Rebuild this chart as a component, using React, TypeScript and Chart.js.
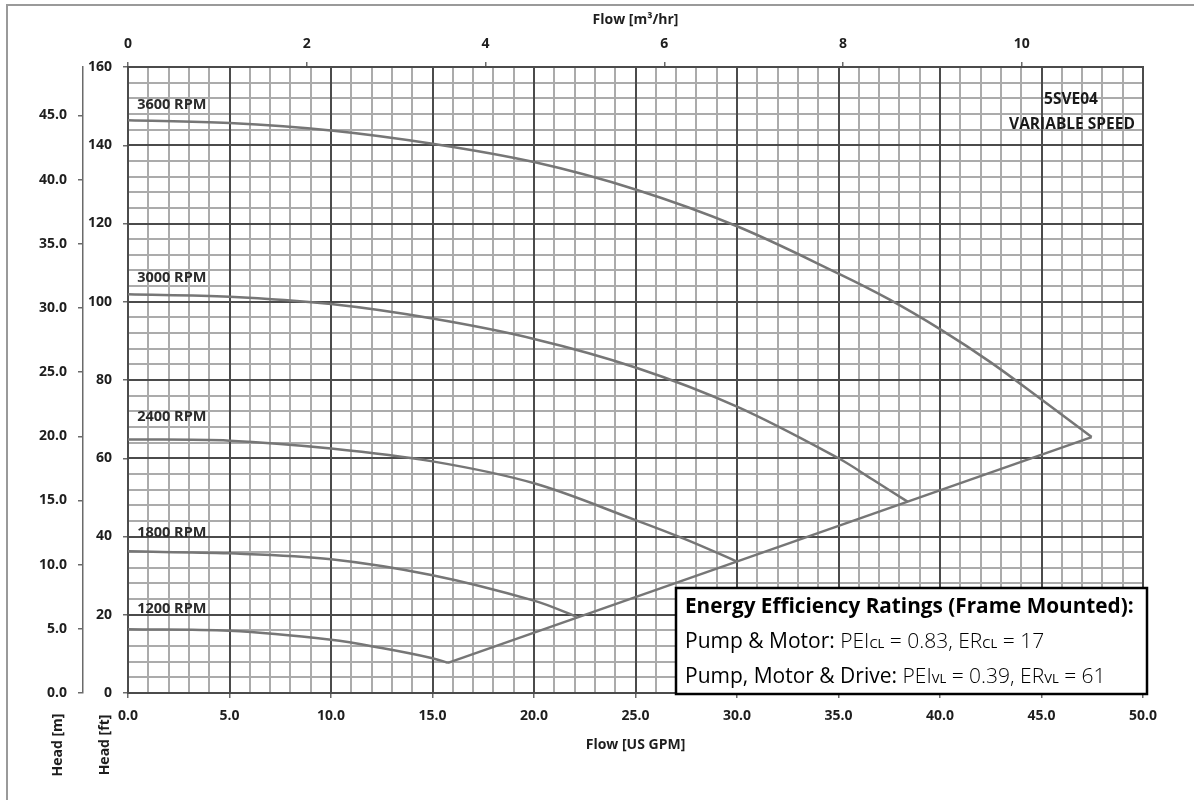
import React, { useEffect, useRef } from 'react';
import { Chart, registerables } from 'chart.js';

Chart.register(...registerables);

// ---------- data (flow in US GPM, head in ft) ----------
const flow3600 = [0, 5, 10, 15, 20, 25, 30, 35, 37.5, 40, 42.5, 45, 47.47];
const head3600 = [146.4, 145.7, 143.8, 140.4, 135.7, 128.7, 119.3, 107.2, 100.6, 93.0, 84.5, 75.0, 65.4];

const flow3000 = [0, 5, 10, 15, 20, 25, 30, 35, 36.7, 38.4];
const head3000 = [101.9, 101.3, 99.4, 95.7, 90.5, 83.2, 73.2, 60, 54.5, 48.9];

const flow2400 = [0, 5, 10, 15, 20, 25, 27.5, 30];
const head2400 = [64.8, 64.5, 62.5, 59.2, 53.6, 44.2, 39.2, 33.6];

const flow1800 = [0, 5, 10, 15, 20, 22.1];
const head1800 = [36.2, 35.7, 34.2, 30.1, 23.6, 19.5];

const flow1200 = [0, 5, 10, 12.5, 15, 15.76];
const head1200 = [16.3, 15.9, 13.6, 11.5, 8.9, 7.7];

// end-of-curve (run-out) line
const rampFlow = [15.76, 47.47];
const rampHead = [7.7, 65.4];

const rpmLabels = ['3600 RPM', '3000 RPM', '2400 RPM', '1800 RPM', '1200 RPM'];

// ---------- tick labels ----------
const gpmTicks = [0, 5, 10, 15, 20, 25, 30, 35, 40, 45, 50];
const m3hTicks = [0, 2, 4, 6, 8, 10];
const ftTicks = [0, 20, 40, 60, 80, 100, 120, 140, 160];
const mTicks = [0, 5, 10, 15, 20, 25, 30, 35, 40, 45];

const GPM_PER_M3H = 4.40287;
const FT_PER_M = 3.28084;

// ---------- label anchors (data units) ----------
const rpmLabelFlow = 0.45;
const rpmLabelHead = [150.4, 106.1, 70.6, 40.9, 21.5];

const MAJOR = '#4b4b4b';
const MINOR = '#ababab';
const CURVE = '#767676';
const TEXT = '#1e1e1e';
const AXFONT = "'Open Sans', 'DejaVu Sans', sans-serif";
const BOXFONT = "'Open Sans', 'Noto Sans', sans-serif";

const paperGrid = {
  id: 'paperGrid',
  beforeDatasetsDraw(chart: any) {
    const { ctx, chartArea: a, scales } = chart;
    const xs = scales.x;
    const ys = scales.y;
    const line = (x1: number, y1: number, x2: number, y2: number) => {
      ctx.beginPath();
      ctx.moveTo(x1, y1);
      ctx.lineTo(x2, y2);
      ctx.stroke();
    };
    ctx.save();
    ctx.lineWidth = 2;
    ctx.strokeStyle = MINOR;
    xs.ticks.forEach((t: any) => {
      if (gpmTicks.includes(t.value)) return;
      const p = Math.round(xs.getPixelForValue(t.value));
      line(p, a.top, p, a.bottom);
    });
    ys.ticks.forEach((t: any) => {
      if (ftTicks.includes(t.value)) return;
      const p = Math.round(ys.getPixelForValue(t.value));
      line(a.left, p, a.right, p);
    });
    ctx.strokeStyle = MAJOR;
    ctx.lineWidth = 2;
    gpmTicks.forEach((v) => {
      const p = Math.round(xs.getPixelForValue(v));
      line(p, a.top - 1, p, a.bottom + 1);
    });
    ftTicks.forEach((v) => {
      const p = Math.round(ys.getPixelForValue(v));
      line(a.left - 1, p, a.right + 1, p);
    });
    ctx.restore();
  },
};

type Run = [string, string];

const decorations = {
  id: 'decorations',
  beforeDraw(chart: any) {
    const { ctx, width, height } = chart;
    ctx.save();
    ctx.fillStyle = '#ffffff';
    ctx.fillRect(0, 0, width, height);
    ctx.strokeStyle = '#9a9a9a';
    ctx.lineWidth = 2;
    ctx.beginPath();
    ctx.moveTo(7, height);
    ctx.lineTo(7, 5);
    ctx.lineTo(width, 5);
    ctx.stroke();
    ctx.restore();
  },
  afterDraw(chart: any) {
    const { ctx, chartArea: a, scales } = chart;
    const xs = scales.x;
    const ys = scales.y;
    const cx = (a.left + a.right) / 2;
    ctx.save();
    ctx.fillStyle = TEXT;
    ctx.textAlign = 'center';
    ctx.textBaseline = 'middle';
    ctx.font = `bold 14px ${AXFONT}`;
    ctx.fillText('Flow [m³/hr]', cx, 20.5);
    ctx.fillText('Flow [US GPM]', cx, 745);

    const rot = (txt: string, x: number, y: number) => {
      ctx.save();
      ctx.translate(x, y);
      ctx.rotate(-Math.PI / 2);
      ctx.fillText(txt, 0, 0);
      ctx.restore();
    };
    rot('Head [m]', 58, 745);
    rot('Head [ft]', 105, 745);

    // RPM labels
    ctx.textAlign = 'left';
    ctx.fillStyle = '#2a2a2a';
    ctx.font = `bold 14.5px ${AXFONT}`;
    rpmLabels.forEach((lab, i) => {
      ctx.fillText(lab, xs.getPixelForValue(rpmLabelFlow), ys.getPixelForValue(rpmLabelHead[i]));
    });

    // model text
    ctx.textAlign = 'center';
    ctx.fillStyle = '#1a1a1a';
    ctx.font = `bold 15.5px ${AXFONT}`;
    ctx.fillText('5SVE04', a.right - 72, 100);
    ctx.fillText('VARIABLE SPEED', a.right - 71, 125);

    // energy efficiency box
    const bx = a.left + 548;
    const by = a.bottom - 105;
    const bw = 471;
    const bh = 106;
    ctx.fillStyle = '#ffffff';
    ctx.fillRect(bx, by, bw, bh);
    ctx.strokeStyle = '#000000';
    ctx.lineWidth = 2.5;
    ctx.strokeRect(bx, by, bw, bh);

    ctx.fillStyle = '#000000';
    ctx.textAlign = 'left';
    ctx.textBaseline = 'alphabetic';
    const tx = bx + 9;

    const fontFor = (kind: string, s: number) => {
      if (kind === 'title') return `bold ${s}px ${BOXFONT}`;
      if (kind === 'sub') return `${(s * 0.62).toFixed(2)}px ${BOXFONT}`;
      if (kind === 'lab') return `500 ${s}px ${BOXFONT}`;
      return `300 ${s}px ${BOXFONT}`;
    };
    const widthAt = (parts: Run[], s: number) =>
      parts.reduce((w, [txt, kind]) => {
        ctx.font = fontFor(kind, s);
        return w + ctx.measureText(txt).width;
      }, 0);
    const runs = (parts: Run[], y: number, target: number) => {
      const base = 18;
      const s = Math.min(21, Math.max(15, (base * target) / widthAt(parts, base)));
      let x = tx;
      parts.forEach(([txt, kind]) => {
        ctx.font = fontFor(kind, s);
        ctx.fillText(txt, x, y);
        x += ctx.measureText(txt).width;
      });
    };
    runs([['Energy Efficiency Ratings (Frame Mounted):', 'title']], by + 25, 449);
    runs(
      [
        ['Pump & Motor: ', 'lab'],
        ['PEI', 'val'],
        ['CL', 'sub'],
        [' = 0.83, ER', 'val'],
        ['CL', 'sub'],
        [' = 17', 'val'],
      ],
      by + 60,
      363
    );
    runs(
      [
        ['Pump, Motor & Drive: ', 'lab'],
        ['PEI', 'val'],
        ['VL', 'sub'],
        [' = 0.39, ER', 'val'],
        ['VL', 'sub'],
        [' = 61', 'val'],
      ],
      by + 95,
      422
    );
    ctx.restore();
  },
};

export default function App() {
  const ref = useRef<HTMLCanvasElement | null>(null);

  useEffect(() => {
    if (!ref.current) return;
    const curves = [
      { flow: flow3600, head: head3600 },
      { flow: flow3000, head: head3000 },
      { flow: flow2400, head: head2400 },
      { flow: flow1800, head: head1800 },
      { flow: flow1200, head: head1200 },
    ];
    const datasets: any[] = curves.map((c, i) => ({
      label: rpmLabels[i],
      data: c.flow.map((x, k) => ({ x, y: c.head[k] })),
      showLine: true,
      borderColor: CURVE,
      borderWidth: 2.5,
      pointRadius: 0,
      tension: 0.35,
      xAxisID: 'x',
      yAxisID: 'y',
    }));
    datasets.push({
      label: 'run-out',
      data: rampFlow.map((x, k) => ({ x, y: rampHead[k] })),
      showLine: true,
      borderColor: CURVE,
      borderWidth: 2.5,
      pointRadius: 0,
      tension: 0,
      xAxisID: 'x',
      yAxisID: 'y',
    });

    const tickFont = { family: AXFONT, size: 14, weight: 'bold' as const };

    const chart = new Chart(ref.current, {
      type: 'scatter',
      data: { datasets },
      plugins: [paperGrid, decorations],
      options: {
        animation: false,
        responsive: false,
        devicePixelRatio: 1,
        layout: { padding: { left: 0, top: 0, right: 51, bottom: 0 } },
        plugins: { legend: { display: false }, tooltip: { enabled: false } },
        events: [],
        scales: {
          x: {
            type: 'linear',
            position: 'bottom',
            min: 0,
            max: 50,
            ticks: {
              stepSize: 1,
              autoSkip: false,
              maxRotation: 0,
              padding: 10,
              color: TEXT,
              font: tickFont,
              callback: (v: any) => (gpmTicks.includes(v) ? Number(v).toFixed(1) : ''),
            },
            grid: {
              drawOnChartArea: false,
              tickLength: 5,
              lineWidth: 1.5,
              tickColor: (c: any) => (c.tick && gpmTicks.includes(c.tick.value) ? '#6a6a6a' : 'rgba(0,0,0,0)'),
            },
            border: { color: MAJOR, width: 2 },
            afterFit: (s: any) => {
              s.height = 107;
            },
          },
          x2: {
            type: 'linear',
            position: 'top',
            min: 0,
            max: 50 / GPM_PER_M3H,
            afterBuildTicks: (s: any) => {
              s.ticks = m3hTicks.map((value) => ({ value }));
            },
            ticks: {
              autoSkip: false,
              maxRotation: 0,
              padding: 10,
              color: TEXT,
              font: tickFont,
              callback: (v: any) => String(v),
            },
            grid: { drawOnChartArea: false, tickLength: 5, lineWidth: 1.5, tickColor: '#6a6a6a' },
            border: { color: MAJOR, width: 2 },
            afterFit: (s: any) => {
              s.height = 67;
            },
          },
          y: {
            type: 'linear',
            position: 'left',
            weight: 0,
            min: 0,
            max: 160,
            ticks: {
              stepSize: 4,
              autoSkip: false,
              padding: 11,
              color: TEXT,
              font: tickFont,
              callback: (v: any) => (ftTicks.includes(v) ? String(v) : ''),
            },
            grid: {
              drawOnChartArea: false,
              tickLength: 5,
              lineWidth: 1.5,
              tickColor: (c: any) => (c.tick && ftTicks.includes(c.tick.value) ? '#6a6a6a' : 'rgba(0,0,0,0)'),
            },
            border: { color: MAJOR, width: 2 },
            afterFit: (s: any) => {
              s.width = 45;
            },
          },
          y2: {
            type: 'linear',
            position: 'left',
            weight: 10,
            min: 0,
            max: 160 / FT_PER_M,
            afterBuildTicks: (s: any) => {
              s.ticks = mTicks.map((value) => ({ value }));
            },
            ticks: {
              autoSkip: false,
              padding: 11,
              color: TEXT,
              font: tickFont,
              callback: (v: any) => Number(v).toFixed(1),
            },
            grid: { drawOnChartArea: false, tickLength: 5, lineWidth: 1.5, tickColor: '#6a6a6a' },
            border: { display: true, color: '#6a6a6a', width: 1.5 },
            afterFit: (s: any) => {
              s.width = 83;
            },
          },
        },
      } as any,
    });
    return () => chart.destroy();
  }, []);

  return (
    <div style={{ position: 'fixed', left: 0, top: 0, width: 1194, height: 800, background: '#fff' }}>
      <canvas ref={ref} width={1194} height={800} style={{ width: 1194, height: 800, display: 'block' }} />
    </div>
  );
}
